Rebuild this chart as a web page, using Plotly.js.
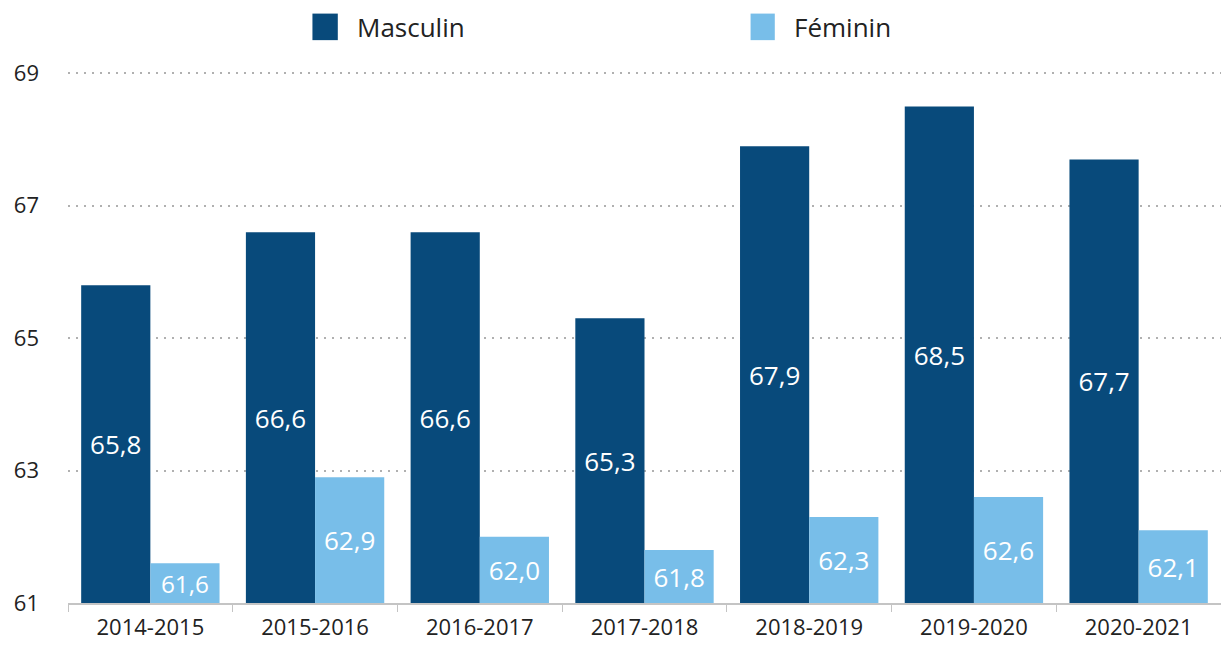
<!DOCTYPE html>
<html>
<head>
<meta charset="utf-8">
<script src="https://cdn.plot.ly/plotly-3.0.1.min.js"></script>
<style>
  html, body { margin: 0; padding: 0; background: #fff; }
  #chart { width: 1221px; height: 645px; }
</style>
</head>
<body>
<div id="chart"></div>
<script>
const categories = ["2014-2015", "2015-2016", "2016-2017", "2017-2018", "2018-2019", "2019-2020", "2020-2021"];
const masculin = [65.8, 66.6, 66.6, 65.3, 67.9, 68.5, 67.7];
const feminin = [61.6, 62.9, 62.0, 61.8, 62.3, 62.6, 62.1];
const seriesNames = ["Masculin", "Féminin"];
const yTicks = [61, 63, 65, 67, 69];
const BASE = 61;

const FONT = "Open Sans, Lato, sans-serif";
const DARK = "#084a7b";
const LIGHT = "#78bee9";

function makeTrace(name, values, color) {
  return {
    type: "bar", name: name, x: categories,
    y: values.map(v => v - BASE), base: BASE, customdata: values,
    marker: { color: color },
    texttemplate: "%{customdata:.1f}", textposition: "inside", insidetextanchor: "middle",
    textfont: { family: FONT, size: 26, color: "#ffffff" },
    showlegend: false, hoverinfo: "x+text"
  };
}

const traces = [
  makeTrace(seriesNames[0], masculin, DARK),
  makeTrace(seriesNames[1], feminin, LIGHT)
];

const layout = {
  width: 1221, height: 645,
  margin: { l: 68, r: 0, t: 72, b: 42 },
  paper_bgcolor: "#fff", plot_bgcolor: "#fff",
  separators: ", ",
  barmode: "group", bargap: 0.16, bargroupgap: 0,
  font: { family: FONT, color: "#222" },
  showlegend: false,
  xaxis: {
    type: "category",
    showgrid: false, zeroline: false,
    showline: true, linecolor: "#c4c4c4", linewidth: 2,
    ticks: "outside", tickson: "boundaries", ticklen: 7, tickcolor: "#c4c4c4", tickwidth: 1,
    tickfont: { family: FONT, size: 22, color: "#222" },
    ticklabelstandoff: 4
  },
  yaxis: {
    range: [61, 69.02],
    tickvals: yTicks, ticktext: yTicks.map(String),
    showgrid: true, gridcolor: "#b0b0b0", gridwidth: 2, griddash: "2px,6px",
    zeroline: false, showline: false, ticks: "",
    tickfont: { family: FONT, size: 22, color: "#222" },
    ticklabelstandoff: 28
  },
  shapes: [
    { type: "rect", xref: "paper", yref: "paper", x0: 0.212, x1: 0.234, y0: 1.06, y1: 1.11, fillcolor: DARK, line: { width: 0 } },
    { type: "rect", xref: "paper", yref: "paper", x0: 0.592, x1: 0.613, y0: 1.06, y1: 1.11, fillcolor: LIGHT, line: { width: 0 } }
  ],
  annotations: [
    { xref: "paper", yref: "paper", x: 0.249, y: 1.085, xanchor: "left", yanchor: "middle", text: seriesNames[0], showarrow: false, font: { family: FONT, size: 26, color: "#222" } },
    { xref: "paper", yref: "paper", x: 0.628, y: 1.085, xanchor: "left", yanchor: "middle", text: seriesNames[1], showarrow: false, font: { family: FONT, size: 26, color: "#222" } }
  ]
};

Plotly.newPlot("chart", traces, layout, { displayModeBar: false, staticPlot: true });
</script>
</body>
</html>
